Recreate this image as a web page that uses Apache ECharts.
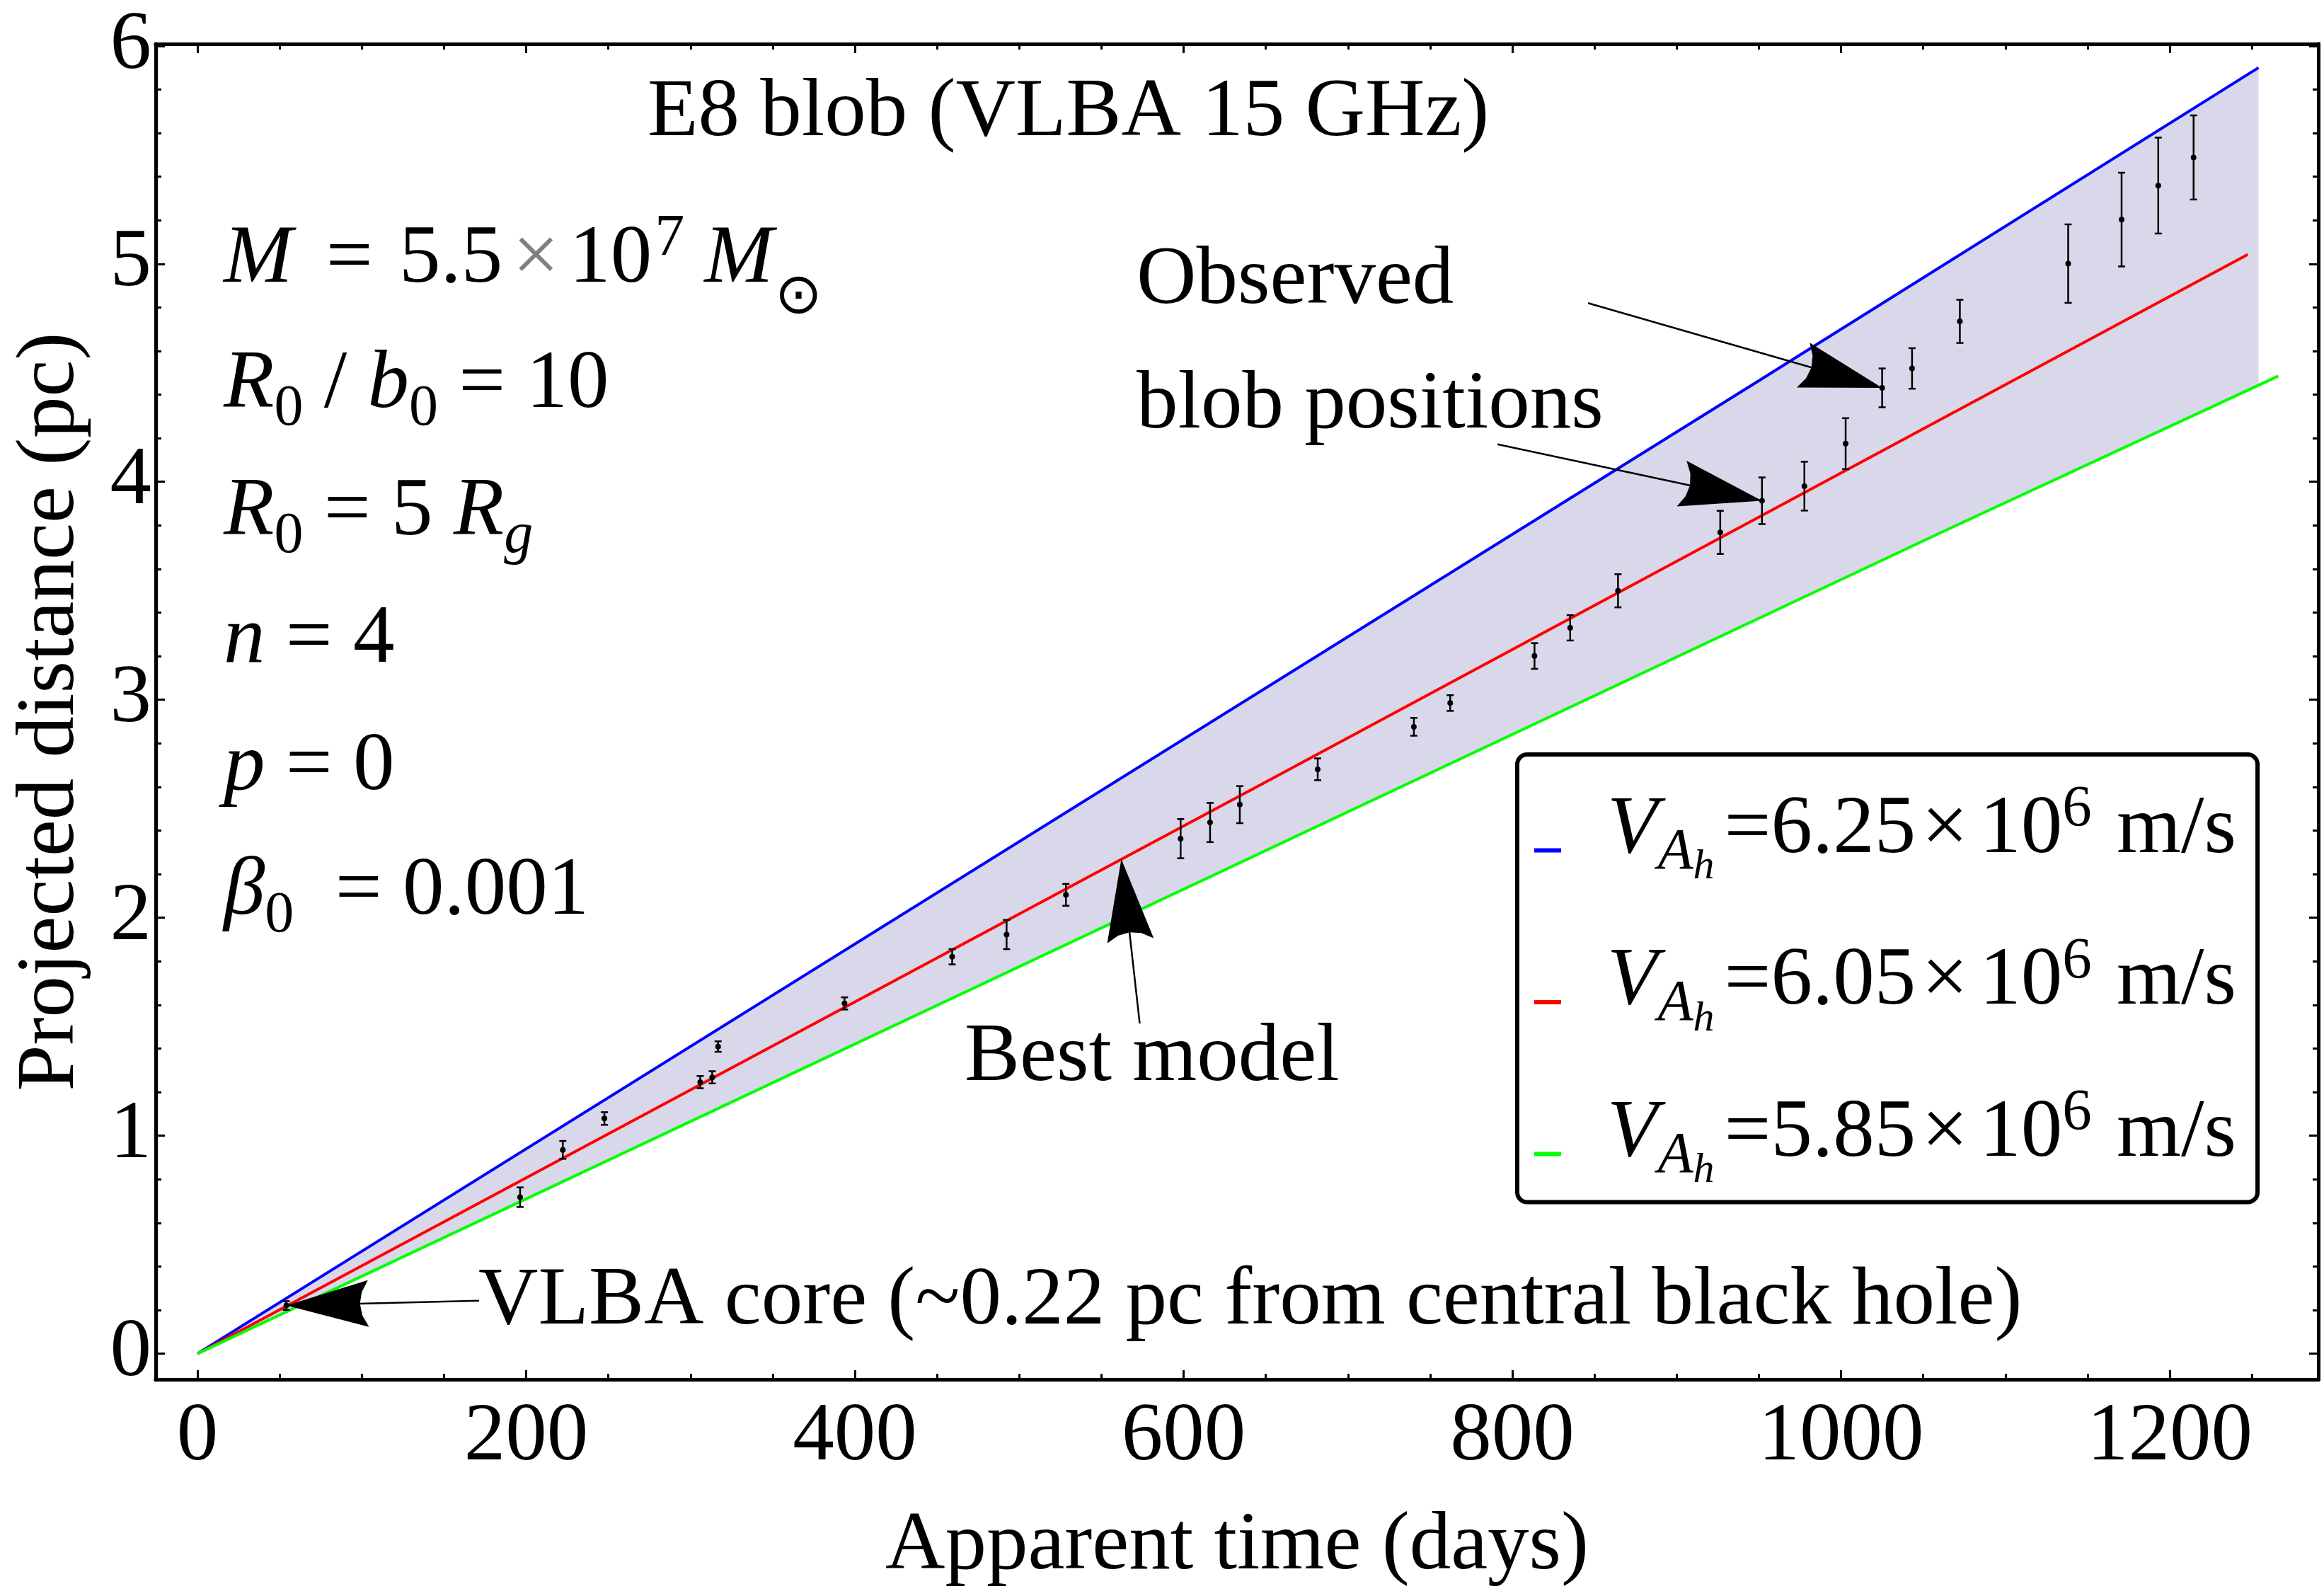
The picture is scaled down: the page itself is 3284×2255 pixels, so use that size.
<!DOCTYPE html>
<html><head><meta charset="utf-8">
<script src="https://cdn.jsdelivr.net/npm/echarts@6/dist/echarts.min.js"></script>
<style>html,body{margin:0;padding:0;background:#fff}#c{width:3284px;height:2255px}</style>
</head><body><div id="c"></div>
<script>
// ---------- data ----------
const timeDays = [54.1,196.3,222.3,247.6,305.9,313.2,316.8,393.7,459.2,492.3,528.4,598.2,616.1,634.2,681.6,740.1,762.2,813.5,835.2,864.3,926.5,951.9,977.7,1002.8,1025.0,1043.2,1072.3,1138.2,1170.7,1193.0,1214.5];
const distPc   = [0.221,0.718,0.935,1.079,1.246,1.268,1.409,1.607,1.821,1.923,2.105,2.363,2.437,2.519,2.681,2.876,2.985,3.201,3.330,3.500,3.768,3.913,3.980,4.175,4.431,4.520,4.736,5.001,5.203,5.359,5.488];
const distErr  = [0.020,0.045,0.041,0.029,0.028,0.028,0.024,0.028,0.035,0.067,0.050,0.090,0.090,0.085,0.050,0.041,0.036,0.059,0.058,0.076,0.099,0.107,0.112,0.117,0.089,0.093,0.099,0.180,0.215,0.220,0.193];

const blueModel  = [[0,0],[947.7,4.453],[1254,5.90]];   // V_Ah = 6.25e6 m/s
const redModel   = [[0,0],[646.3,2.608],[1247.5,5.043]]; // V_Ah = 6.05e6 m/s
const greenModel = [[0,0],[1063,3.775],[1266,4.485]];   // V_Ah = 5.85e6 m/s
const bandUpper  = [[0,0],[947.7,4.453],[1254,5.90]];
const bandLower  = [[0,0],[1063,3.775],[1254,4.445]];

const modelSpeeds = ['6.25','6.05','5.85'];
const xMajorTicks = [0,200,400,600,800,1000,1200];
const yMajorTicks = [0,1,2,3,4,5,6];
const xRange = [-25.4, 1290.4];
const yRange = [-0.118, 6.009];

// ---------- helpers ----------
const FONT = 'Liberation Serif';
const xMinorTicks = []; for (let v = 50; v <= 1250; v += 50) if (v % 200 !== 0) xMinorTicks.push(v);
const yMinorTicks = []; for (let i = 1; i < 30; i++) if (i % 5 !== 0) yMinorTicks.push(+(i * 0.2).toFixed(1));

const chart = echarts.init(document.getElementById('c'), null, {renderer: 'canvas'});

function xAx(pos, ticks, major) {
  return {
    type: 'value', position: pos, min: xRange[0], max: xRange[1],
    axisLine: {show: true, onZero: false, lineStyle: {color: '#000', width: 5}},
    axisTick: {show: true, inside: true, length: major ? 13 : 8, customValues: ticks, lineStyle: {color: '#000', width: 3}},
    axisLabel: (major && pos === 'bottom') ? {show: true, customValues: ticks, margin: 24, fontSize: 117, fontFamily: FONT, color: '#000', formatter: v => String(v)} : {show: false},
    splitLine: {show: false},
    name: (major && pos === 'bottom') ? 'Apparent time (days)' : '',
    nameLocation: 'middle', nameGap: 178,
    nameTextStyle: {fontSize: 117, fontFamily: FONT, color: '#000'}
  };
}
function yAx(pos, ticks, major) {
  return {
    type: 'value', position: pos, min: yRange[0], max: yRange[1],
    axisLine: {show: true, onZero: false, lineStyle: {color: '#000', width: 5}},
    axisTick: {show: true, inside: true, length: major ? 13 : 8, customValues: ticks, lineStyle: {color: '#000', width: 3}},
    axisLabel: (major && pos === 'left') ? {show: true, customValues: ticks, margin: 6, fontSize: 117, fontFamily: FONT, color: '#000', formatter: v => String(v)} : {show: false},
    splitLine: {show: false},
    name: (major && pos === 'left') ? 'Projected distance (pc)' : '',
    nameLocation: 'middle', nameGap: 89,
    nameTextStyle: {fontSize: 117, fontFamily: FONT, color: '#000'}
  };
}

const seriesNames = modelSpeeds.map(s => 'V' + s);
const lineColors = ['#0000ff', '#ff0000', '#00ff00'];
const modelData = [blueModel, redModel, greenModel];

const LH = 120;
const legendRich = {
  v:  {fontSize: 117, fontStyle: 'italic', fontFamily: FONT, lineHeight: LH, height: 2, padding: [0, 0, 57, 60]},
  a:  {fontSize: 82,  fontStyle: 'italic', fontFamily: FONT, lineHeight: LH, height: 2, padding: [7, 0, 0, 0]},
  h:  {fontSize: 60,  fontStyle: 'italic', fontFamily: FONT, lineHeight: LH, height: 2, padding: [48, 0, 0, 0]},
  e:  {fontSize: 117, fontFamily: FONT, lineHeight: LH, height: 2, padding: [0, 0, 57, 14]},
  x:  {fontSize: 117, fontFamily: FONT, lineHeight: LH, height: 2, padding: [0, 0, 57, 8]},
  t:  {fontSize: 117, fontFamily: FONT, lineHeight: LH, height: 2, padding: [0, 0, 57, 16]},
  s:  {fontSize: 83,  fontFamily: FONT, lineHeight: LH, height: 2, padding: [0, 0, 114, 0]},
  u:  {fontSize: 117, fontFamily: FONT, lineHeight: LH, height: 2, padding: [0, 0, 57, 6]}
};

const option = {
  animation: false,
  backgroundColor: '#fff',
  grid: {left: 220, right: 8, top: 62, bottom: 306, containLabel: false},
  xAxis: [xAx('bottom', xMajorTicks, true), xAx('bottom', xMinorTicks, false), xAx('top', xMajorTicks, true), xAx('top', xMinorTicks, false)],
  yAxis: [yAx('left', yMajorTicks, true), yAx('left', yMinorTicks, false), yAx('right', yMajorTicks, true), yAx('right', yMinorTicks, false)],
  legend: {
    orient: 'vertical', left: 2144, top: 1066, padding: [37, 30, 8, 24], itemGap: 56,
    itemWidth: 38, itemHeight: 6, icon: 'rect', selectedMode: false,
    borderColor: '#000', borderWidth: 6, borderRadius: 14, backgroundColor: '#fff',
    data: seriesNames,
    formatter: function (name) {
      const s = name.slice(1);
      return '{v|V}{a|A}{h|h}{e|=' + s + '}{x|×}{t|10}{s|6}{u| m/s}';
    },
    textStyle: {fontSize: 117, fontFamily: FONT, color: '#000', lineHeight: LH, rich: legendRich}
  },
  series: [
    {
      type: 'custom', name: 'band', z: 1, silent: true, data: [[0, 0]],
      renderItem: function (params, api) {
        const pts = bandUpper.map(p => api.coord(p)).concat(bandLower.slice().reverse().map(p => api.coord(p)));
        return {type: 'polygon', shape: {points: pts}, style: {fill: 'rgb(216,216,234)'}};
      }
    }
  ].concat(seriesNames.map((n, i) => ({
    type: 'line', name: n, data: modelData[i], showSymbol: false, symbol: 'none', z: 2,
    color: lineColors[i], lineStyle: {color: lineColors[i], width: 4}
  }))).concat([{
    type: 'custom', name: 'obs', z: 5, silent: true,
    data: timeDays.map((d, i) => [d, distPc[i], distErr[i]]),
    encode: {x: 0, y: 1},
    renderItem: function (params, api) {
      const x = api.value(0), y = api.value(1), e = api.value(2);
      const c = api.coord([x, y]), t = api.coord([x, y + e]), b = api.coord([x, y - e]);
      const hw = 5, st = {stroke: '#000', lineWidth: 2.5};
      return {type: 'group', children: [
        {type: 'line', shape: {x1: c[0], y1: t[1], x2: c[0], y2: b[1]}, style: st},
        {type: 'line', shape: {x1: c[0] - hw, y1: t[1], x2: c[0] + hw, y2: t[1]}, style: st},
        {type: 'line', shape: {x1: c[0] - hw, y1: b[1], x2: c[0] + hw, y2: b[1]}, style: st},
        {type: 'circle', shape: {cx: c[0], cy: c[1], r: 4}, style: {fill: '#000'}}
      ]};
    }
  }])
};
chart.setOption(option);

// ---------- annotations ----------
const arrows = [
  {tail: [171.4, 0.243], tip: [54.1, 0.221]},
  {tail: [573.3, 1.515], tip: [562.1, 2.269]},
  {tail: [846.1, 4.820], tip: [1025.0, 4.431]},
  {tail: [791.0, 4.172], tip: [951.9, 3.913]}
];
const graphics = [];
const L = 116, W = 66;
arrows.forEach(a => {
  const p0 = chart.convertToPixel({gridIndex: 0}, a.tail);
  const p1 = chart.convertToPixel({gridIndex: 0}, a.tip);
  const dx = p1[0] - p0[0], dy = p1[1] - p0[1], len = Math.hypot(dx, dy);
  const ux = dx / len, uy = dy / len, nx = -uy, ny = ux;
  const P = (back, side) => [p1[0] - back * ux + side * nx, p1[1] - back * uy + side * ny];
  graphics.push({type: 'polyline', z: 100, shape: {points: [p0, P(L - 14, 0)]}, style: {stroke: '#000', lineWidth: 2.5}});
  graphics.push({type: 'polygon', z: 101, shape: {points: [
    p1, P(L, W / 2), P(L - 9, W / 4), P(L - 12, 0), P(L - 9, -W / 4), P(L, -W / 2)
  ]}, style: {fill: '#000'}});
});

const MID = 31; // distance from text middle to baseline
function txt(x, baseline, text, rich) {
  return {type: 'text', z: 110, x: x, y: baseline - MID,
    style: {text: text, fontSize: 117, fontFamily: FONT, fill: '#000', align: 'left', verticalAlign: 'middle', lineHeight: 140, rich: rich}};
}
const paramRich = {
  it:  {fontSize: 117, fontStyle: 'italic', fontFamily: FONT, lineHeight: 140},
  rm:  {fontSize: 117, fontFamily: FONT, lineHeight: 140},
  eq:  {fontSize: 117, fontFamily: FONT, lineHeight: 140, padding: [0, 0, 0, 18]},
  num: {fontSize: 117, fontFamily: FONT, lineHeight: 140, padding: [0, 0, 0, 8]},
  gx:  {fontSize: 117, fontFamily: FONT, lineHeight: 140, fill: '#808080', padding: [0, 14, 0, 14]},
  mm:  {fontSize: 117, fontStyle: 'italic', fontFamily: FONT, lineHeight: 140, padding: [0, 0, 0, 28]},
  sub: {fontSize: 82, fontFamily: FONT, lineHeight: 140, height: 2, padding: [68, 0, 0, 0]},
  sit: {fontSize: 82, fontStyle: 'italic', fontFamily: FONT, lineHeight: 140, height: 2, padding: [68, 0, 0, 0]},
  sup: {fontSize: 84, fontFamily: FONT, lineHeight: 140, height: 2, padding: [0, 0, 56, 4]},
  od:  {fontSize: 80, fontFamily: 'DejaVu Sans', lineHeight: 140, height: 2, padding: [108, 0, 0, 2]}
};
graphics.push(txt(915, 191, 'E8 blob (VLBA 15 GHz)'));
graphics.push(txt(316, 398, '{it|M}{eq| =}{num| 5.5}{gx|×}{rm|10}{sup|7}{mm|M}{od|⊙}', paramRich));
graphics.push(txt(316, 575, '{it|R}{sub|0}{rm| / }{it|b}{sub|0}{rm| = 10}', paramRich));
graphics.push(txt(316, 755, '{it|R}{sub|0}{rm| = 5 }{it|R}{sit|g}', paramRich));
graphics.push(txt(316, 935, '{it|n}{rm| = 4}', paramRich));
graphics.push(txt(316, 1115, '{it|p}{rm| = 0}', paramRich));
graphics.push(txt(316, 1291, '{it|β}{sub|0}{rm|  = 0.001}', paramRich));
graphics.push(txt(1606, 428, 'Observed'));
graphics.push(txt(1606, 604, 'blob positions'));
graphics.push(txt(1363, 1526, 'Best model'));
graphics.push(txt(676, 1870, 'VLBA core (~0.22 pc from central black hole)'));

chart.setOption({graphic: graphics});
</script>
</body></html>
